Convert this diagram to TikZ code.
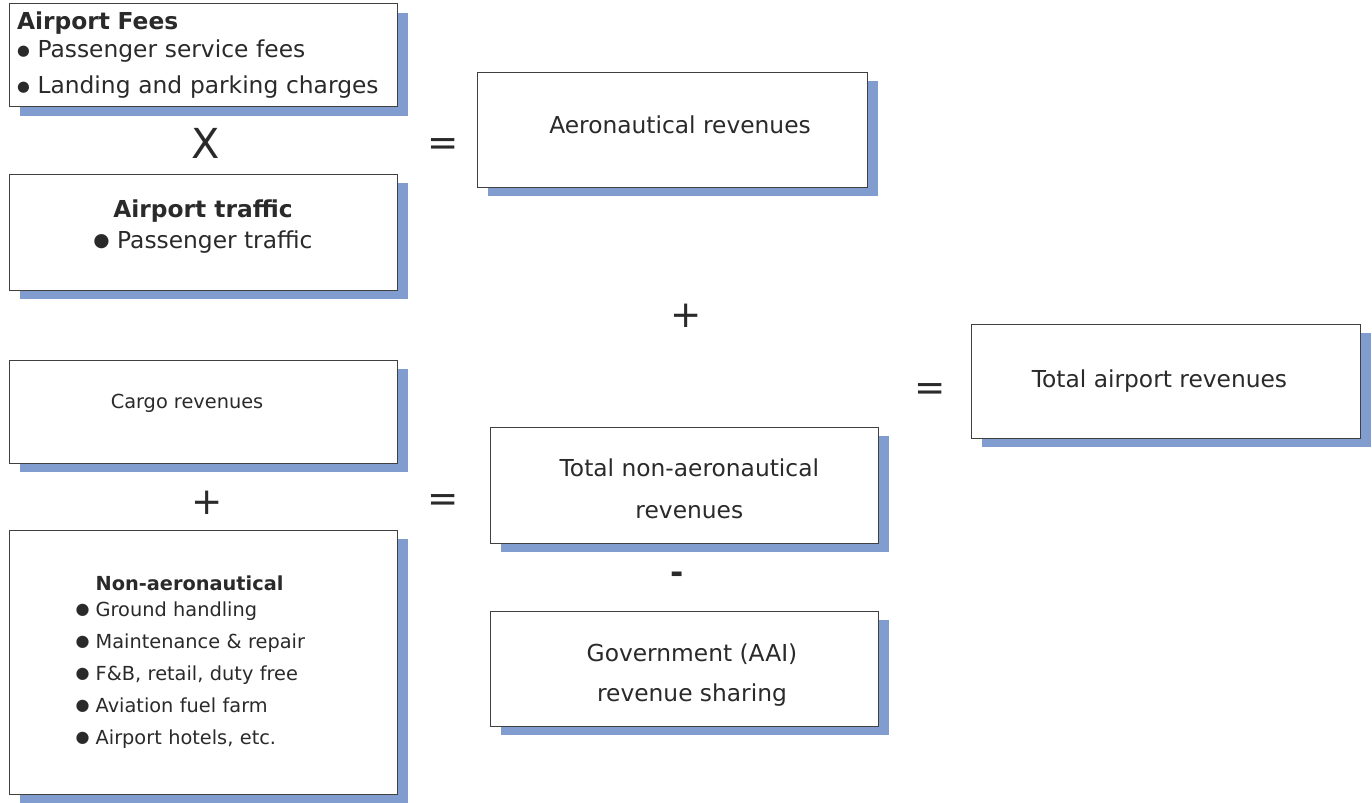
\documentclass[tikz,border=0pt]{standalone}
\usepackage{fontspec}
\setmainfont{DejaVu Sans}
\usetikzlibrary{shadows}
\definecolor{shadowblue}{HTML}{819DCF}
\definecolor{inkgray}{HTML}{2A2A2A}
\newcommand{\bdot}[1]{\raisebox{1.3pt}{\fontsize{#1}{#1}\selectfont ●}}
\newcommand{\itm}{\makebox[15pt][l]{\bdot{12pt}}}

\begin{document}
\begin{tikzpicture}[
	x=0.75pt, y=-0.75pt,
	every node/.style={text=inkgray},
	revbox/.style={draw=black!75, line width=0.75pt, fill=white, rectangle, inner sep=6pt,
		minimum width=291pt, minimum height=#1, font=\fontsize{17.5}{21}\selectfont,
		drop shadow={shadow xshift=8pt, shadow yshift=-7pt, fill=shadowblue, opacity=1}},
	op/.style={inner sep=0pt, font=\fontsize{28}{32}\selectfont}
	]
	\useasboundingbox (0,0) rectangle (1372,803);

	% Boxes, left column
	\node[revbox=76.5pt, align=left, text width=279pt] (fees) at (203,55)
		{\textbf{Airport Fees}\\ \bdot{11pt}~Passenger service fees\\[6pt] \bdot{11pt}~Landing and parking charges};
	\node[revbox=87pt, align=center, text depth=12pt] (traffic) at (203,232)
		{\textbf{Airport traffic}\\[2pt] \bdot{14pt}\ Passenger traffic};
	\node[revbox=77.25pt, font=\fontsize{14.5}{17}\selectfont, text depth=15pt] (cargo) at (203,411.5)
		{Cargo revenues\hspace*{24pt}};
	\node[revbox=198pt, align=left, text width=191pt, inner xsep=50pt,
		font=\fontsize{14.5}{24}\selectfont] (nonaero) at (203,662)
		{\hspace*{15pt}\textbf{Non-aeronautical}\\[-5pt]
		 \itm Ground handling\\
		 \itm Maintenance \& repair\\
		 \itm F\&B, retail, duty free\\
		 \itm Aviation fuel farm\\
		 \itm Airport hotels, etc.};

	% Boxes, middle and right
	\node[revbox=86.25pt, minimum width=292.5pt, text depth=7pt] (aero) at (672,129.5)
		{\hspace*{12pt}Aeronautical revenues};
	\node[revbox=87pt, align=center, text height=51pt] (totnonaero) at (684,485)
		{\hspace*{8pt}Total non-aeronautical\\[11pt] \hspace*{8pt}revenues};
	\node[revbox=86.25pt, align=center, text height=53.5pt] (govt) at (684,668.5)
		{\hspace*{12pt}Government (AAI)\\[9pt] \hspace*{12pt}revenue sharing};
	\node[revbox=85.5pt, minimum width=291.75pt] (total) at (1165.5,381)
		{Total airport revenues\hspace*{9pt}};

	% Operators
	\node[op, font=\fontsize{31}{36}\selectfont] (times) at (206,143) {X};
	\node[op] (eqaero) at (443,147) {=};
	\node[op] (plusmid) at (686,316) {+};
	\node[op] (eqtotal) at (930,392) {=};
	\node[op] (pluscargo) at (207,503) {+};
	\node[op] (eqnonaero) at (443,503) {=};
	\node[op, font=\fontsize{24}{28}\bfseries] (minus) at (677,578) {-};
\end{tikzpicture}
\end{document}
